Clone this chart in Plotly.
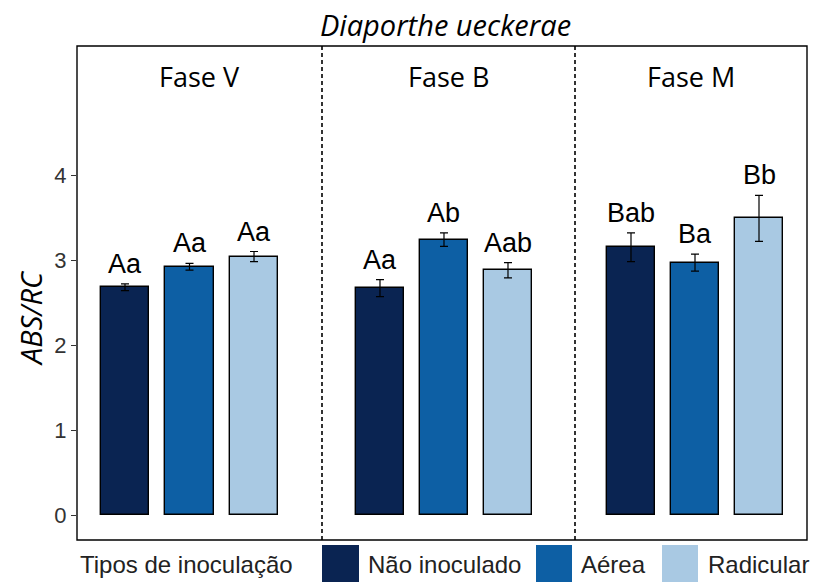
import plotly.graph_objects as go

# ---- data ----
fases = ["Fase V", "Fase B", "Fase M"]
tipos = ["Não inoculado", "Aérea", "Radicular"]
means_V = [2.68, 2.92, 3.04]
se_V = [0.04, 0.04, 0.06]
means_B = [2.67, 3.24, 2.88]
se_B = [0.10, 0.08, 0.09]
means_M = [3.15, 2.97, 3.49]
se_M = [0.17, 0.10, 0.27]
letters_V = ["Aa", "Aa", "Aa"]
letters_B = ["Aa", "Ab", "Aab"]
letters_M = ["Bab", "Ba", "Bb"]
y_ticks = [0, 1, 2, 3, 4]
title_text = "Diaporthe ueckerae"
y_title = "ABS/RC"
legend_title = "Tipos de inoculação"

colors = ["#0a2452", "#0d5fa4", "#a9c9e3"]

W, H = 816, 582
L, R, T, B = 77, 9, 46, 42
pw = W - L - R
ph = H - T - B

def px2x(px):
    return (px - L) / pw

def py2y(py):
    return (H - B - py) / ph

b1 = px2x(322)
b2 = px2x(575)
domains = [[0, b1], [b1, b2], [b2, 1]]
xranges = [[-0.744, 3.054], [-0.906, 3.047], [-0.875, 2.75]]

fig = go.Figure()
panels = [(means_V, se_V, letters_V), (means_B, se_B, letters_B), (means_M, se_M, letters_M)]
axnames = ["x", "x2", "x3"]

for i, (m, s, lets) in enumerate(panels):
    xa = axnames[i]
    fig.add_trace(go.Bar(
        x=tipos, y=m, xaxis=xa, yaxis="y",
        marker=dict(color=colors, line=dict(color="black", width=1.4)),
        width=0.75,
        error_y=dict(type="data", array=s, visible=True, color="black", thickness=1.2, width=4),
        showlegend=False, hoverinfo="skip",
    ))
    for j, t in enumerate(tipos):
        fig.add_annotation(
            x=t, y=m[j] + s[j], xref=xa, yref="y", text=lets[j], showarrow=False,
            xanchor="center", yanchor="bottom", yshift=3,
            font=dict(family="Liberation Sans, Arial", size=27, color="black"),
        )
    fig.add_annotation(
        x=0.5, xref=f"{xa} domain", y=py2y(77), yref="paper", text=fases[i],
        showarrow=False, xanchor="center", yanchor="middle",
        font=dict(family="Open Sans", size=27, color="black"),
    )

layout_axes = {}
for i, xa in enumerate(axnames):
    key = "xaxis" if i == 0 else f"xaxis{i+1}"
    layout_axes[key] = dict(
        domain=domains[i], range=xranges[i], type="category",
        showticklabels=False, showgrid=False, zeroline=False, ticks="",
        showline=False, anchor="y", fixedrange=True,
    )

fig.update_layout(
    **layout_axes,
    yaxis=dict(
        range=[-0.294, 5.518], tickvals=y_ticks, ticktext=[str(v) for v in y_ticks],
        ticks="outside", ticklen=5, tickwidth=1.2, tickcolor="#333",
        showgrid=False, zeroline=False, showline=False, anchor="x",
        tickfont=dict(family="Liberation Sans, Arial", size=22, color="#333"),
    ),
    width=W, height=H,
    margin=dict(l=L, r=R, t=T, b=B),
    plot_bgcolor="white", paper_bgcolor="white",
    showlegend=False,
    bargap=0,
)

shapes = []
# outer box
shapes.append(dict(type="rect", xref="paper", yref="paper", x0=0, x1=1, y0=0, y1=1,
                   line=dict(color="black", width=1.4), fillcolor="rgba(0,0,0,0)", layer="above"))
for bx in [b1, b2]:
    shapes.append(dict(type="line", xref="paper", yref="paper", x0=bx, x1=bx, y0=0, y1=1,
                       line=dict(color="black", width=1.6, dash="4px,3px")))
# legend keys
key_px = [(322, 359), (536, 572), (662, 698)]
text_px = [366, 579, 706]
for k, (a, b) in enumerate(key_px):
    shapes.append(dict(type="rect", xref="paper", yref="paper", x0=px2x(a), x1=px2x(b),
                       y0=py2y(545), y1=py2y(600), line=dict(width=0), fillcolor=colors[k]))
    fig.add_annotation(x=px2x(text_px[k]), y=py2y(564), xref="paper", yref="paper",
                       text=tipos[k], showarrow=False, xanchor="left", yanchor="middle",
                       font=dict(family="Liberation Sans, Arial", size=24, color="#222"))
fig.add_annotation(x=px2x(78), y=py2y(564), xref="paper", yref="paper", text=legend_title,
                   showarrow=False, xanchor="left", yanchor="middle",
                   font=dict(family="Liberation Sans, Arial", size=24, color="#222"))
fig.update_layout(shapes=shapes)

# title and y-axis title
fig.add_annotation(x=px2x(445), y=py2y(25), xref="paper", yref="paper",
                   text=f"<i>{title_text}</i>", showarrow=False, xanchor="center", yanchor="middle",
                   font=dict(family="Open Sans", size=29, color="black"))
fig.add_annotation(x=px2x(30), y=py2y(318), xref="paper", yref="paper",
                   text=f"<i>{y_title}</i>", showarrow=False, textangle=-90,
                   xanchor="center", yanchor="middle",
                   font=dict(family="Open Sans", size=29, color="black"))

fig.write_html(
    "out.html",
    config={"displayModeBar": False},
    post_script="document.body.style.margin='0';document.body.style.padding='0';document.body.style.overflow='hidden';",
)
